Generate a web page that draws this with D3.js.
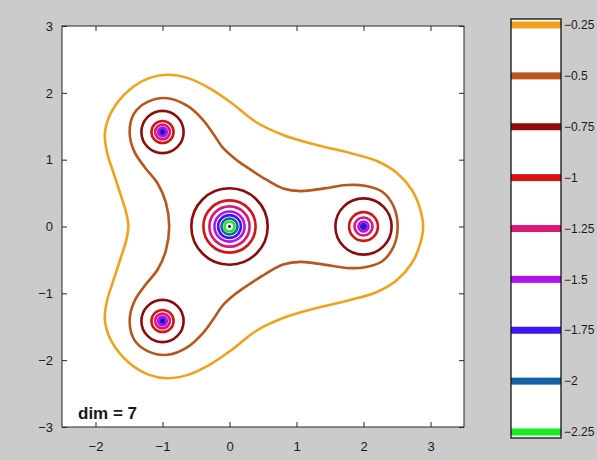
<!DOCTYPE html>
<html>
<head>
<meta charset="utf-8">
<script src="https://cdn.jsdelivr.net/npm/d3@7"></script>
<style>
  body { margin: 0; background: #cbcbcb; }
  text { font-family: "Liberation Sans", Arial, sans-serif; fill: #1a1a1a; }
</style>
</head>
<body>
<svg id="chart" width="597" height="460"></svg>
<script>
// contour levels and their colours (colorbar order)
const levels = [-0.25, -0.5, -0.75, -1, -1.25, -1.5, -1.75, -2, -2.25];
const levelColors = ["#f3a11c", "#b9561b", "#8e0b0b", "#d71212", "#de1676", "#b312ee", "#3d16f2", "#1761a6", "#16ec22"];

const xTicks = [-2, -1, 0, 1, 2, 3];
const yTicks = [-3, -2, -1, 0, 1, 2, 3];

// level -0.25 contour (x, y)
const contourOuter = [
  [2.89, 0.00], [2.84, 0.28], [2.72, 0.55], [2.50, 0.80], [2.20, 0.98], [1.80, 1.10],
  [1.30, 1.22], [0.80, 1.37], [0.40, 1.56], [0.04, 1.84], [-0.30, 2.07], [-0.62, 2.22],
  [-0.93, 2.27], [-1.20, 2.22], [-1.50, 2.04], [-1.76, 1.72], [-1.86, 1.40], [-1.83, 1.12],
  [-1.73, 0.80], [-1.62, 0.46], [-1.54, 0.20], [-1.51, 0.00], [-1.54, -0.20], [-1.62, -0.46],
  [-1.73, -0.80], [-1.83, -1.12], [-1.86, -1.40], [-1.76, -1.72], [-1.50, -2.04], [-1.20, -2.22],
  [-0.93, -2.27], [-0.62, -2.22], [-0.30, -2.07], [0.04, -1.84], [0.40, -1.56], [0.80, -1.37],
  [1.30, -1.22], [1.80, -1.10], [2.20, -0.98], [2.50, -0.80], [2.72, -0.55], [2.84, -0.28]
];

// level -0.5 contour
const contourMiddle = [
  [2.51, 0.00], [2.45, 0.30], [2.28, 0.52], [2.02, 0.61], [1.75, 0.62], [1.41, 0.57],
  [1.06, 0.53], [0.80, 0.57], [0.55, 0.70], [0.30, 0.86], [0.10, 1.00], [-0.10, 1.18],
  [-0.25, 1.40], [-0.40, 1.60], [-0.62, 1.80], [-0.93, 1.92], [-1.23, 1.86], [-1.43, 1.68],
  [-1.49, 1.40], [-1.42, 1.12], [-1.26, 0.88], [-1.07, 0.64], [-0.95, 0.36], [-0.90, 0.00],
  [-0.95, -0.36], [-1.07, -0.64], [-1.26, -0.88], [-1.42, -1.12], [-1.49, -1.40], [-1.43, -1.68],
  [-1.23, -1.86], [-0.93, -1.92], [-0.62, -1.80], [-0.40, -1.60], [-0.25, -1.40], [-0.10, -1.18],
  [0.10, -1.00], [0.30, -0.86], [0.55, -0.70], [0.80, -0.57], [1.06, -0.53], [1.41, -0.57],
  [1.75, -0.62], [2.02, -0.61], [2.28, -0.52], [2.45, -0.30]
];

// point sources and the radii of their ring contours (levels -0.75 .. -2.25)
const centers = [[0, 0], [2, 0], [-1, 1.414], [-1, -1.414]];
const ringRadii = [
  [0.57, 0.39, 0.30, 0.225, 0.17, 0.12, 0.075],
  [0.42, 0.215, 0.135, 0.075, 0.035],
  [0.315, 0.165, 0.11, 0.065, 0.03],
  [0.315, 0.165, 0.11, 0.065, 0.03]
];

const svg = d3.select("#chart");
const plot = {left: 62, top: 26, right: 464, bottom: 427};

const x = d3.scaleLinear().domain([-2.5, 3.5]).range([plot.left, plot.right]);
const y = d3.scaleLinear().domain([-3, 3]).range([plot.bottom, plot.top]);
const color = d3.scaleOrdinal().domain(levels).range(levelColors);

svg.append("rect")
    .attr("x", plot.left).attr("y", plot.top)
    .attr("width", plot.right - plot.left).attr("height", plot.bottom - plot.top)
    .attr("fill", "#fff");

const line = d3.line()
    .x(d => x(d[0]))
    .y(d => y(d[1]))
    .curve(d3.curveCatmullRomClosed.alpha(0.5));

const g = svg.append("g").attr("fill", "none").attr("stroke-width", 2.6);

g.append("path").datum(contourOuter)
    .attr("d", line).attr("stroke", color(-0.25));
g.append("path").datum(contourMiddle)
    .attr("d", line).attr("stroke", color(-0.5));

const rings = [];
centers.forEach((c, i) => {
  ringRadii[i].forEach((r, j) => rings.push({c: c, r: r, level: levels[j + 2]}));
});

g.selectAll("circle.ring").data(rings).join("circle")
    .attr("class", "ring")
    .attr("cx", d => x(d.c[0]))
    .attr("cy", d => y(d.c[1]))
    .attr("r", d => x(d.r) - x(0))
    .attr("stroke", d => color(d.level));

svg.selectAll("circle.src").data(centers).join("circle")
    .attr("class", "src")
    .attr("cx", d => x(d[0]))
    .attr("cy", d => y(d[1]))
    .attr("r", 1.4)
    .attr("fill", (d, i) => i === 0 ? "#000" : "#1a1060");

// axes, ticks inward on all four sides
const axisColor = "#262626";
const xAxis = svg.append("g")
    .attr("transform", `translate(0,${plot.bottom})`)
    .call(d3.axisBottom(x).tickValues(xTicks).tickSizeInner(-5).tickSizeOuter(0).tickPadding(15).tickFormat(d3.format("d")));
svg.append("g")
    .attr("transform", `translate(0,${plot.top})`)
    .call(d3.axisTop(x).tickValues(xTicks).tickSizeInner(-5).tickSizeOuter(0).tickFormat(""));
const yAxis = svg.append("g")
    .attr("transform", `translate(${plot.left},0)`)
    .call(d3.axisLeft(y).tickValues(yTicks).tickSizeInner(-5).tickSizeOuter(0).tickPadding(9).tickFormat(d3.format("d")));
svg.append("g")
    .attr("transform", `translate(${plot.right},0)`)
    .call(d3.axisRight(y).tickValues(yTicks).tickSizeInner(-5).tickSizeOuter(0).tickFormat(""));

svg.selectAll(".domain").remove();
svg.selectAll(".tick line").attr("stroke", axisColor);
[xAxis, yAxis].forEach(a => a.selectAll(".tick text")
    .attr("font-size", 13)
    .attr("font-family", "Liberation Sans, Arial, sans-serif")
    .attr("fill", "#1a1a1a"));

svg.append("rect")
    .attr("x", plot.left).attr("y", plot.top)
    .attr("width", plot.right - plot.left).attr("height", plot.bottom - plot.top)
    .attr("fill", "none").attr("stroke", axisColor).attr("stroke-width", 1);

svg.append("text")
    .attr("x", 78).attr("y", 419)
    .attr("font-size", 17).attr("font-weight", "bold")
    .text("dim = 7");

// colorbar
const cb = {left: 511, right: 561, top: 19, bottom: 438};
const cy = d3.scaleLinear().domain([-0.25, -2.25]).range([25, 432]);

svg.append("rect")
    .attr("x", cb.left).attr("y", cb.top)
    .attr("width", cb.right - cb.left).attr("height", cb.bottom - cb.top)
    .attr("fill", "#fff");

svg.selectAll("rect.band").data(levels).join("rect")
    .attr("class", "band")
    .attr("x", cb.left).attr("y", d => cy(d) - 3.5)
    .attr("width", cb.right - cb.left).attr("height", 7)
    .attr("fill", d => color(d));

svg.append("rect")
    .attr("x", cb.left).attr("y", cb.top)
    .attr("width", cb.right - cb.left).attr("height", cb.bottom - cb.top)
    .attr("fill", "none").attr("stroke", "#111").attr("stroke-width", 1.3);

svg.selectAll("text.cblab").data(levels).join("text")
    .attr("class", "cblab")
    .attr("x", cb.right + 3).attr("y", d => cy(d))
    .attr("dy", "0.35em")
    .attr("font-size", 12)
    .text(d => d3.format("")(d));
</script>
</body>
</html>
